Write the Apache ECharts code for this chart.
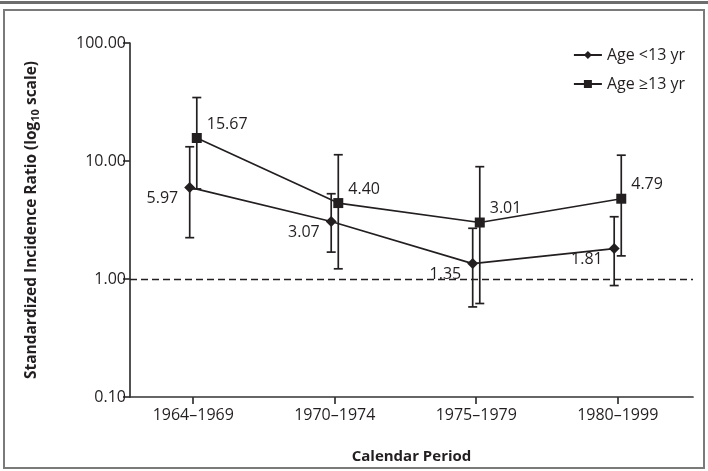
<!DOCTYPE html>
<html>
<head>
<meta charset="utf-8">
<script src="https://cdn.jsdelivr.net/npm/echarts@6/dist/echarts.min.js"></script>
<style>
  html, body { margin: 0; padding: 0; background: #fff; }
  #main { width: 708px; height: 471px; }
</style>
</head>
<body>
<div id="main"></div>
<script>
var periods = ['1964\u20131969', '1970\u20131974', '1975\u20131979', '1980\u20131999'];
var yTicks = [0.1, 1, 10, 100];

// Age <13 yr
var youngSir = [5.97, 3.07, 1.35, 1.81];
var youngLow = [2.24, 1.69, 0.58, 0.88];
var youngHigh = [13.2, 5.28, 2.69, 3.37];

// Age >=13 yr
var olderSir = [15.67, 4.40, 3.01, 4.79];
var olderLow = [5.8, 1.22, 0.62, 1.57];
var olderHigh = [34.5, 11.3, 8.95, 11.2];

var dodge = 0.025;
var font = 'Open Sans';
var ink = '#231f20';

function points(vals, shift) {
    return vals.map(function(v, i) { return [i + 1 + shift, v]; });
}
function bars(lo, hi, shift) {
    return lo.map(function(v, i) { return [i + 1 + shift, v, hi[i]]; });
}

function errorBar(params, api) {
    var x = api.value(0);
    var lo = api.coord([x, api.value(1)]);
    var hi = api.coord([x, api.value(2)]);
    var half = 4.5;
    var style = { stroke: ink, lineWidth: 1.7 };
    return {
        type: 'group',
        children: [
            { type: 'line', shape: { x1: lo[0], y1: lo[1], x2: hi[0], y2: hi[1] }, style: style },
            { type: 'line', shape: { x1: lo[0] - half, y1: lo[1], x2: lo[0] + half, y2: lo[1] }, style: style },
            { type: 'line', shape: { x1: hi[0] - half, y1: hi[1], x2: hi[0] + half, y2: hi[1] }, style: style }
        ]
    };
}

var chart = echarts.init(document.getElementById('main'));

var option = {
    animation: false,
    textStyle: { fontFamily: font, color: ink },
    graphic: [
        { type: 'line', shape: { x1: 0, y1: 2.5, x2: 708, y2: 2.5 }, style: { stroke: '#6d6d6d', lineWidth: 3 } },
        { type: 'rect', shape: { x: 4, y: 10, width: 700, height: 458 }, style: { fill: 'none', stroke: '#7a7a7a', lineWidth: 2 } }
    ],
    grid: { left: 130, right: 15, top: 43, bottom: 74 },
    legend: {
        orient: 'vertical',
        right: 18,
        top: 42,
        itemWidth: 28,
        itemHeight: 10,
        itemGap: 13,
        textStyle: { fontFamily: font, fontSize: 16, color: ink },
        data: ['Age <13 yr', 'Age \u226513 yr']
    },
    xAxis: {
        type: 'value',
        min: 0.553,
        max: 4.532,
        name: 'Calendar Period',
        nameLocation: 'middle',
        nameGap: 52,
        nameTextStyle: { fontFamily: font, fontSize: 15, fontWeight: 'bold', color: ink },
        splitLine: { show: false },
        axisLine: { lineStyle: { color: '#333', width: 1.7 } },
        axisTick: { customValues: [1, 2, 3, 4], length: 7, lineStyle: { color: '#333', width: 1.7 } },
        axisLabel: {
            customValues: [1, 2, 3, 4],
            margin: 10,
            fontSize: 16,
            color: ink,
            formatter: function(v) { return periods[Math.round(v) - 1]; }
        }
    },
    yAxis: {
        type: 'log',
        logBase: 10,
        min: yTicks[0],
        max: yTicks[yTicks.length - 1],
        name: 'Standardized Incidence Ratio (log{sub|10} scale)',
        nameLocation: 'middle',
        nameGap: 90,
        nameTextStyle: {
            fontFamily: font, fontSize: 15.5, fontWeight: 'bold', color: ink,
            rich: { sub: { fontFamily: font, fontSize: 11, fontWeight: 'bold', color: ink, padding: [0, 0, -8, 0] } }
        },
        splitLine: { show: false },
        axisLine: { show: true, lineStyle: { color: '#333', width: 1.7 } },
        axisTick: { show: true, length: 7, lineStyle: { color: '#333', width: 1.7 } },
        axisLabel: {
            margin: 4,
            fontSize: 16,
            color: ink,
            formatter: function(v) { return v.toFixed(2); }
        }
    },
    series: [
        {
            name: 'Age <13 yr',
            type: 'line',
            data: points(youngSir, -dodge),
            symbol: 'diamond',
            symbolSize: 11,
            itemStyle: { color: ink },
            lineStyle: { color: ink, width: 1.7 },
            z: 3,
            label: {
                show: true, position: 'left', distance: 6, offset: [0, 11],
                fontSize: 16, color: ink,
                formatter: function(p) { return p.value[1].toFixed(2); }
            },
            markLine: {
                silent: true,
                symbol: 'none',
                label: { show: false },
                lineStyle: { color: ink, type: [7, 4], width: 1.3 },
                data: [{ yAxis: 1 }]
            }
        },
        {
            name: 'Age \u226513 yr',
            type: 'line',
            data: points(olderSir, dodge),
            symbol: 'rect',
            symbolSize: 10,
            itemStyle: { color: ink },
            lineStyle: { color: ink, width: 1.7 },
            z: 3,
            label: {
                show: true, position: 'right', distance: 5, offset: [0, -14],
                fontSize: 16, color: ink,
                formatter: function(p) { return p.value[1].toFixed(2); }
            }
        },
        {
            type: 'custom',
            renderItem: errorBar,
            data: bars(youngLow, youngHigh, -dodge),
            encode: { x: 0, y: [1, 2] },
            z: 2
        },
        {
            type: 'custom',
            renderItem: errorBar,
            data: bars(olderLow, olderHigh, dodge),
            encode: { x: 0, y: [1, 2] },
            z: 2
        }
    ]
};

chart.setOption(option);
</script>
</body>
</html>
